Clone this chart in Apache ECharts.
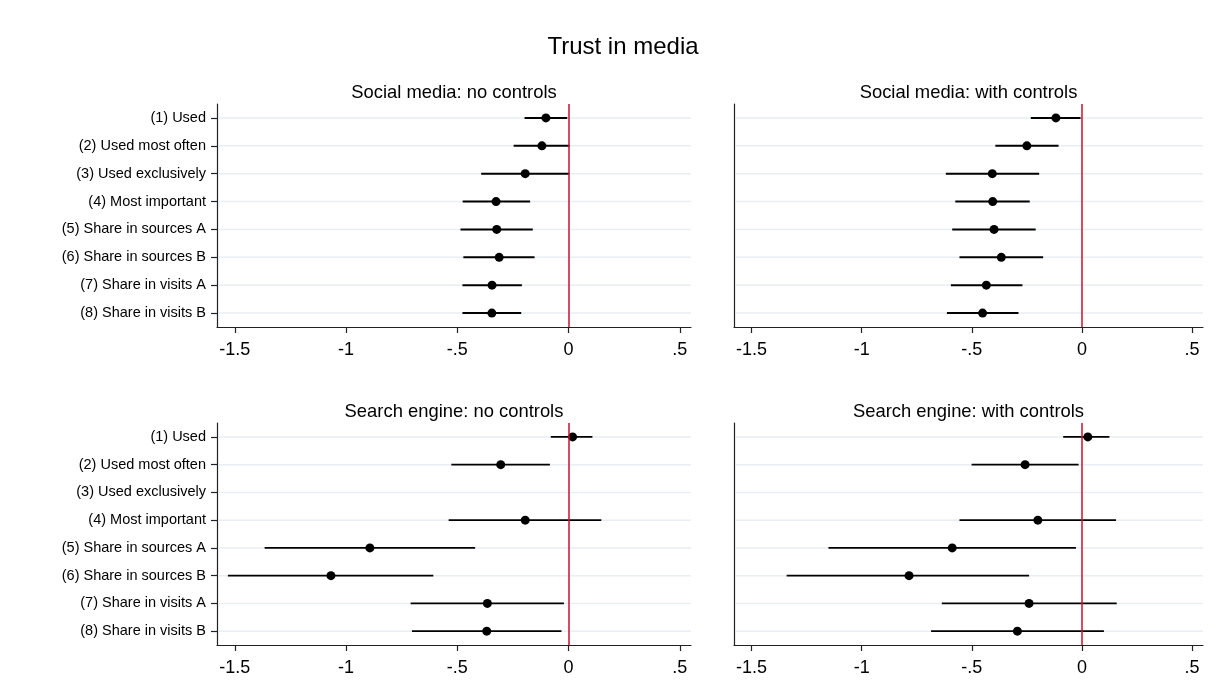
<!DOCTYPE html>
<html>
<head>
<meta charset="utf-8">
<title>Trust in media</title>
<script src="https://cdn.jsdelivr.net/npm/echarts@6/dist/echarts.min.js"></script>
<style>
html, body { margin: 0; padding: 0; background: #fff; }
#chart { width: 1224px; height: 690px; }
</style>
</head>
<body>
<div id="chart"></div>
<script>
// Data
const categories = [
  '(1) Used', '(2) Used most often', '(3) Used exclusively', '(4) Most important',
  '(5) Share in sources A', '(6) Share in sources B', '(7) Share in visits A', '(8) Share in visits B'
];
const xTicks = [-1.5, -1, -0.5, 0, 0.5];

// Social media: no controls
const socialNoEst = [-0.102, -0.120, -0.195, -0.326, -0.323, -0.312, -0.344, -0.345];
const socialNoLo  = [-0.198, -0.247, -0.393, -0.476, -0.486, -0.473, -0.477, -0.477];
const socialNoHi  = [-0.006,  0.004,  0.003, -0.173, -0.161, -0.153, -0.210, -0.213];

// Social media: with controls
const socialCtrlEst = [-0.118, -0.250, -0.407, -0.405, -0.399, -0.366, -0.434, -0.451];
const socialCtrlLo  = [-0.232, -0.393, -0.618, -0.575, -0.589, -0.556, -0.595, -0.613];
const socialCtrlHi  = [-0.006, -0.106, -0.194, -0.237, -0.210, -0.176, -0.270, -0.288];

// Search engine: no controls
const searchNoEst = [ 0.018, -0.305, null, -0.195, -0.893, -1.068, -0.365, -0.368];
const searchNoLo  = [-0.080, -0.527, null, -0.539, -1.366, -1.531, -0.710, -0.704];
const searchNoHi  = [ 0.107, -0.084, null,  0.147, -0.420, -0.608, -0.021, -0.032];

// Search engine: with controls
const searchCtrlEst = [ 0.027, -0.258, null, -0.200, -0.589, -0.785, -0.240, -0.293];
const searchCtrlLo  = [-0.085, -0.501, null, -0.556, -1.151, -1.341, -0.636, -0.685];
const searchCtrlHi  = [ 0.125, -0.015, null,  0.155, -0.027, -0.240,  0.158,  0.100];

const panels = [
  { title: 'Social media: no controls', est: socialNoEst, lo: socialNoLo, hi: socialNoHi },
  { title: 'Social media: with controls', est: socialCtrlEst, lo: socialCtrlLo, hi: socialCtrlHi },
  { title: 'Search engine: no controls', est: searchNoEst, lo: searchNoLo, hi: searchNoHi },
  { title: 'Search engine: with controls', est: searchCtrlEst, lo: searchCtrlLo, hi: searchCtrlHi }
];

// Layout of the four plot regions
const layout = [
  { left: 217, top: 104, width: 474, height: 223, labels: true },
  { left: 734, top: 104, width: 469, height: 223, labels: false },
  { left: 217, top: 423, width: 474, height: 222, labels: true },
  { left: 734, top: 423, width: 469, height: 222, labels: false }
];

const FONT = '"Liberation Sans", Arial, sans-serif';
const fmtTick = v => String(v).replace('0.', '.');

const grids = [];
const xAxes = [];
const yAxes = [];
const series = [];
const titles = [{
  text: 'Trust in media',
  left: 623,
  textAlign: 'center',
  top: 35,
  padding: 0,
  textStyle: { fontFamily: FONT, fontSize: 24, fontWeight: 'normal', color: '#000' }
}];

panels.forEach((p, k) => {
  const L = layout[k];
  grids.push({ left: L.left, top: L.top, width: L.width, height: L.height, containLabel: false });

  titles.push({
    text: p.title,
    left: L.left + L.width / 2,
    textAlign: 'center',
    top: L.top - 20,
    padding: 0,
    textStyle: { fontFamily: FONT, fontSize: 18.4, fontWeight: 'normal', color: '#000' }
  });

  xAxes.push({
    type: 'value',
    gridIndex: k,
    min: -1.58,
    max: 0.55,
    axisLine: { show: true, onZero: false, lineStyle: { color: '#222', width: 1.2 } },
    axisTick: { show: true, length: 6, customValues: xTicks, lineStyle: { color: '#222', width: 1.2 } },
    axisLabel: {
      customValues: xTicks,
      formatter: fmtTick,
      margin: 14,
      color: '#000',
      fontFamily: FONT,
      fontSize: 18
    },
    splitLine: { show: false }
  });

  yAxes.push({
    type: 'category',
    gridIndex: k,
    inverse: true,
    data: categories,
    axisLine: { show: true, onZero: false, lineStyle: { color: '#222', width: 1.2 } },
    axisTick: { show: L.labels, length: 6, alignWithLabel: true, lineStyle: { color: '#222', width: 1.2 } },
    axisLabel: {
      show: L.labels,
      margin: 11,
      color: '#000',
      fontFamily: FONT,
      fontSize: 14.5
    },
    splitLine: { show: false }
  });

  // light row lines
  series.push({
    type: 'custom',
    xAxisIndex: k,
    yAxisIndex: k,
    silent: true,
    z: 1,
    data: categories.map((c, i) => [0, i]),
    encode: { x: 0, y: 1 },
    renderItem: (params, api) => {
      const cs = params.coordSys;
      const y = api.coord([0, api.value(1)])[1];
      return {
        type: 'line',
        shape: { x1: cs.x + 1.5, y1: y, x2: cs.x + cs.width, y2: y },
        style: { stroke: '#e8eef3', lineWidth: 1.5 }
      };
    }
  });

  // confidence intervals
  series.push({
    type: 'custom',
    xAxisIndex: k,
    yAxisIndex: k,
    silent: true,
    z: 2,
    data: p.lo.map((lo, i) => [lo, p.hi[i], i]).filter(d => d[0] !== null),
    encode: { x: [0, 1], y: 2 },
    renderItem: (params, api) => {
      const a = api.coord([api.value(0), api.value(2)]);
      const b = api.coord([api.value(1), api.value(2)]);
      return {
        type: 'line',
        shape: { x1: a[0], y1: a[1], x2: b[0], y2: b[1] },
        style: { stroke: '#000', lineWidth: 1.9 }
      };
    }
  });

  // point estimates + zero line
  series.push({
    type: 'scatter',
    xAxisIndex: k,
    yAxisIndex: k,
    z: 3,
    symbol: 'circle',
    symbolSize: 9,
    itemStyle: { color: '#000', opacity: 1 },
    data: p.est.map((e, i) => [e, i]).filter(d => d[0] !== null),
    markLine: {
      silent: true,
      symbol: 'none',
      label: { show: false },
      lineStyle: { color: '#c8102e', width: 1.5, type: 'solid' },
      data: [{ xAxis: 0 }],
      animation: false
    }
  });
});

const chart = echarts.init(document.getElementById('chart'));
chart.setOption({
  backgroundColor: '#fff',
  animation: false,
  title: titles,
  grid: grids,
  xAxis: xAxes,
  yAxis: yAxes,
  series: series
});
</script>
</body>
</html>
